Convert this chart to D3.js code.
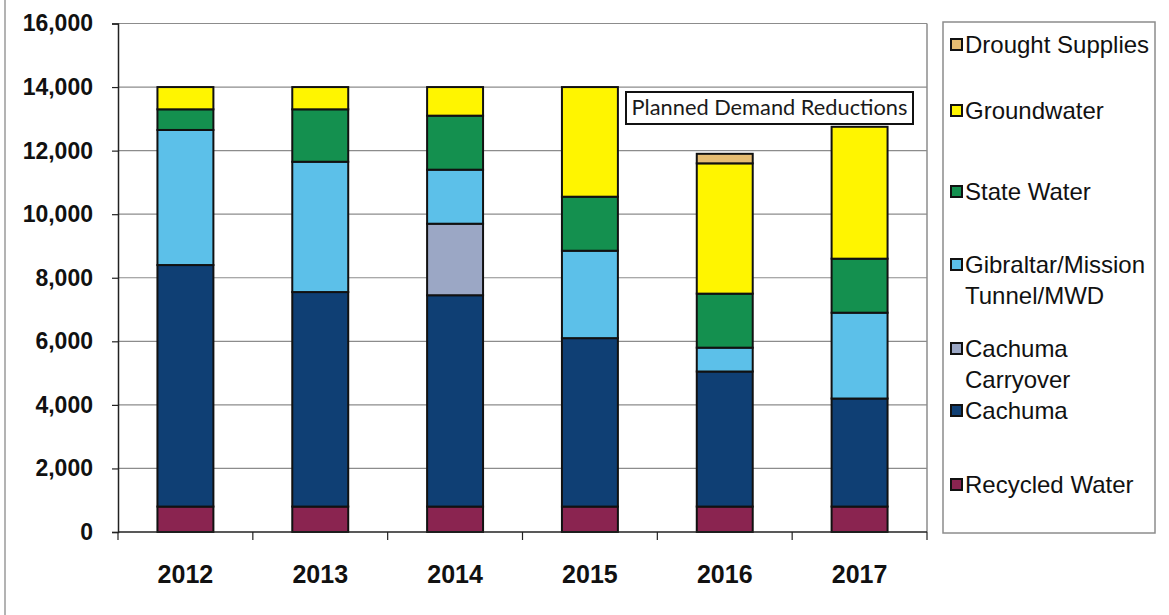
<!DOCTYPE html>
<html>
<head>
<meta charset="utf-8">
<script src="https://cdn.jsdelivr.net/npm/d3@7"></script>
<style>
  body { margin: 0; background: #fff; }
  svg { display: block; font-family: "Liberation Sans", Arial, sans-serif; }
</style>
</head>
<body>
<div id="container"></div>
<script>
/* the data (acre-feet per year) */
var years = ["2012", "2013", "2014", "2015", "2016", "2017"]
var recycled    = [800, 800, 800, 800, 800, 800]
var cachuma     = [7600, 6750, 6650, 5300, 4250, 3400]
var carryover   = [0, 0, 2250, 0, 0, 0]
var gibraltar   = [4250, 4100, 1700, 2750, 750, 2700]
var stateWater  = [650, 1650, 1700, 1700, 1700, 1700]
var groundwater = [700, 700, 900, 3450, 4100, 4150]
var drought     = [0, 0, 0, 0, 300, 0]
var yTicks = [0, 2000, 4000, 6000, 8000, 10000, 12000, 14000, 16000]

/* series from bottom of the stack to the top */
var series = [
  { key: "recycled",    label: ["Recycled Water"],               values: recycled,    color: "#8a2450" },
  { key: "cachuma",     label: ["Cachuma"],                      values: cachuma,     color: "#0f3f74" },
  { key: "carryover",   label: ["Cachuma", "Carryover"],         values: carryover,   color: "#9ba7c5" },
  { key: "gibraltar",   label: ["Gibraltar/Mission", "Tunnel/MWD"], values: gibraltar, color: "#5cc0e9" },
  { key: "stateWater",  label: ["State Water"],                  values: stateWater,  color: "#14904f" },
  { key: "groundwater", label: ["Groundwater"],                  values: groundwater, color: "#fff500" },
  { key: "drought",     label: ["Drought Supplies"],             values: drought,     color: "#e6bd72" }
]

var W = 1169, H = 615
var plot = { left: 118, right: 927, top: 23.5, bottom: 532 }

var svg = d3.select("#container").append("svg")
            .attr("width", W).attr("height", H)

/* outer frame line on the left */
svg.append("line")
   .attr("x1", 5).attr("x2", 5).attr("y1", 0).attr("y2", H)
   .attr("stroke", "#9a9a9a").attr("stroke-width", 1.5)

/* scales */
var x = d3.scaleBand()
          .domain(years)
          .range([plot.left, plot.right])
          .paddingInner(0.585)
          .paddingOuter(0.2925)
var y = d3.scaleLinear()
          .domain([0, 16000])
          .range([plot.bottom, plot.top])

/* gridlines */
svg.append("g").selectAll("line")
   .data(yTicks.filter(function(d) { return d > 0 }))
   .enter().append("line")
     .attr("x1", plot.left).attr("x2", plot.right)
     .attr("y1", function(d) { return y(d) }).attr("y2", function(d) { return y(d) })
     .attr("stroke", "#8c8c8c").attr("stroke-width", 1.2)

/* right border of plot area */
svg.append("line")
   .attr("x1", plot.right).attr("x2", plot.right)
   .attr("y1", plot.top).attr("y2", plot.bottom)
   .attr("stroke", "#8c8c8c").attr("stroke-width", 1.5)

/* stacked bars */
var table = years.map(function(yr, i) {
  var row = { year: yr }
  series.forEach(function(s) { row[s.key] = s.values[i] })
  return row
})
var stacked = d3.stack().keys(series.map(function(s) { return s.key }))(table)

svg.append("g").selectAll("g")
   .data(stacked)
   .enter().append("g")
     .attr("fill", function(d, i) { return series[i].color })
   .selectAll("rect")
   .data(function(d) { return d.filter(function(p) { return p[1] - p[0] > 0 }) })
   .enter().append("rect")
     .attr("x", function(d) { return x(d.data.year) })
     .attr("width", x.bandwidth())
     .attr("y", function(d) { return y(d[1]) })
     .attr("height", function(d) { return y(d[0]) - y(d[1]) })
     .attr("stroke", "#111").attr("stroke-width", 2)

/* y axis */
var yAxis = svg.append("g")
   .attr("transform", "translate(" + plot.left + ",0)")
   .call(d3.axisLeft(y).tickValues(yTicks).tickFormat(d3.format(",")).tickSize(6).tickPadding(19))
yAxis.select(".domain").attr("stroke", "#222").attr("stroke-width", 1.5)
yAxis.selectAll(".tick line").attr("stroke", "#222").attr("stroke-width", 1.2)
yAxis.selectAll("text")
     .attr("font-size", 23).attr("font-weight", "bold").attr("fill", "#111")
     .attr("font-family", "'Liberation Sans', Arial, sans-serif")

/* x axis: line, boundary ticks, year labels */
svg.append("line")
   .attr("x1", plot.left).attr("x2", plot.right)
   .attr("y1", plot.bottom).attr("y2", plot.bottom)
   .attr("stroke", "#222").attr("stroke-width", 1.5)
svg.append("g").selectAll("line")
   .data(d3.range(years.length + 1))
   .enter().append("line")
     .attr("x1", function(i) { return plot.left + i * x.step() })
     .attr("x2", function(i) { return plot.left + i * x.step() })
     .attr("y1", plot.bottom).attr("y2", plot.bottom + 8)
     .attr("stroke", "#222").attr("stroke-width", 1.2)
svg.append("g").selectAll("text")
   .data(years)
   .enter().append("text")
     .attr("x", function(d) { return x(d) + x.bandwidth() / 2 })
     .attr("y", 583)
     .attr("text-anchor", "middle")
     .attr("font-size", 25).attr("font-weight", "bold").attr("fill", "#111")
     .text(function(d) { return d })

/* "Planned Demand Reductions" label box */
var note = svg.append("g")
note.append("rect")
    .attr("x", 626).attr("y", 92).attr("width", 287).attr("height", 32)
    .attr("fill", "#fff").attr("stroke", "#111").attr("stroke-width", 2)
var noteText = note.append("text")
    .attr("x", 626 + 287 / 2).attr("y", 115)
    .attr("text-anchor", "middle")
    .attr("font-family", "Lato, 'Open Sans', sans-serif")
    .attr("font-size", 20).attr("fill", "#1a1a1a")
    .text("Planned Demand Reductions")
var len = noteText.node().getComputedTextLength()
noteText.attr("font-size", 20 * 276 / len)

/* legend */
var legend = svg.append("g")
legend.append("rect")
      .attr("x", 943).attr("y", 22).attr("width", 212).attr("height", 511)
      .attr("fill", "#fff").attr("stroke", "#8c8c8c").attr("stroke-width", 1.5)

var legendRows = [
  { key: "drought",     y: 45 },
  { key: "groundwater", y: 111 },
  { key: "stateWater",  y: 192 },
  { key: "gibraltar",   y: 265 },
  { key: "carryover",   y: 349 },
  { key: "cachuma",     y: 411 },
  { key: "recycled",    y: 485 }
]
legendRows.forEach(function(r) {
  var s = series.find(function(d) { return d.key === r.key })
  var g = legend.append("g")
  g.append("rect")
   .attr("x", 951).attr("y", r.y - 6).attr("width", 11).attr("height", 11)
   .attr("fill", s.color).attr("stroke", "#111").attr("stroke-width", 2)
  s.label.forEach(function(line, j) {
    g.append("text")
     .attr("x", 965).attr("y", r.y + 8 + j * 31)
     .attr("font-size", 24).attr("fill", "#111")
     .text(line)
  })
})
</script>
</body>
</html>
